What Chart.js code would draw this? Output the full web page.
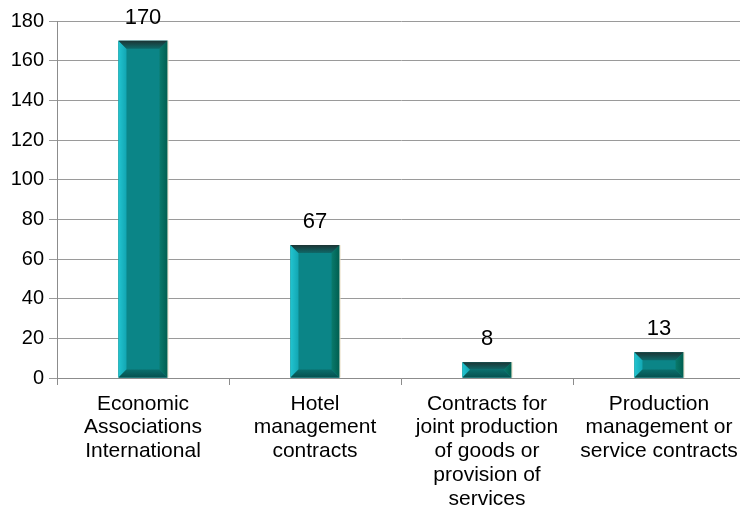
<!DOCTYPE html>
<html><head><meta charset="utf-8">
<script src="https://cdn.jsdelivr.net/npm/chart.js@4/dist/chart.umd.min.js"></script>
<style>html,body{margin:0;padding:0;background:#fff;overflow:hidden}#wrap{width:750px;height:510px}</style>
</head><body><div id="wrap"><canvas id="c" width="750" height="510"></canvas></div>
<script>
const categories = [
  ["Economic","Associations","International"],
  ["Hotel","management","contracts"],
  ["Contracts for","joint production","of goods or","provision of","services"],
  ["Production","management or","service contracts"]
];
const values = [170, 67, 8, 13];
const yTicks = [0,20,40,60,80,100,120,140,160,180];

const bevelPlugin = {
  id: 'bevel',
  afterDatasetsDraw(chart) {
    const ctx = chart.ctx;
    const meta = chart.getDatasetMeta(0);
    meta.data.forEach((bar, i) => {
      const p = bar.getProps(['x','y','base','width'], true);
      const l = p.x - p.width/2, r = p.x + p.width/2, t = p.y, b = p.base;
      const h = b - t;
      const d = Math.min(8, h/2, p.width/2);
      ctx.save();
      ctx.fillStyle = '#0b8587';
      ctx.fillRect(l, t, r-l, h);
      let g = ctx.createLinearGradient(l,0,l+d,0);
      g.addColorStop(0,'#22c4d0'); g.addColorStop(1,'#12a6b2');
      ctx.fillStyle = g;
      ctx.beginPath(); ctx.moveTo(l,t); ctx.lineTo(l+d,t+d); ctx.lineTo(l+d,b-d); ctx.lineTo(l,b); ctx.closePath(); ctx.fill();
      g = ctx.createLinearGradient(r-d,0,r,0);
      g.addColorStop(0,'#0a7a6c'); g.addColorStop(1,'#005e50');
      ctx.fillStyle = g;
      ctx.beginPath(); ctx.moveTo(r,t); ctx.lineTo(r-d,t+d); ctx.lineTo(r-d,b-d); ctx.lineTo(r,b); ctx.closePath(); ctx.fill();
      g = ctx.createLinearGradient(0,t,0,t+d);
      g.addColorStop(0,'#1c3434'); g.addColorStop(1,'#0e6a6a');
      ctx.fillStyle = g;
      ctx.beginPath(); ctx.moveTo(l,t); ctx.lineTo(r,t); ctx.lineTo(r-d,t+d); ctx.lineTo(l+d,t+d); ctx.closePath(); ctx.fill();
      g = ctx.createLinearGradient(0,b-d,0,b);
      g.addColorStop(0,'#0a6e6c'); g.addColorStop(1,'#05514f');
      ctx.fillStyle = g;
      ctx.beginPath(); ctx.moveTo(l,b); ctx.lineTo(r,b); ctx.lineTo(r-d,b-d); ctx.lineTo(l+d,b-d); ctx.closePath(); ctx.fill();
      ctx.strokeStyle = '#e8dcc0'; ctx.lineWidth = 1;
      ctx.beginPath(); ctx.moveTo(r+0.5,t); ctx.lineTo(r+0.5,b); ctx.stroke();
      ctx.fillStyle = '#000';
      ctx.font = '22px "Liberation Sans", Arial, sans-serif';
      ctx.textAlign = 'center'; ctx.textBaseline = 'middle';
      ctx.fillText(String(values[i]), p.x, t - 23);
      ctx.restore();
    });
  }
};

new Chart(document.getElementById('c'), {
  type: 'bar',
  data: { labels: categories, datasets: [{ data: values, backgroundColor: '#0b8587', barPercentage: 0.285, categoryPercentage: 1.0 }] },
  options: {
    responsive: false, animation: false,
    layout: { padding: { top: 21, right: 5, left: 0, bottom: 0 } },
    plugins: { legend: { display: false }, tooltip: { enabled: false } },
    scales: {
      x: {
        grid: { drawOnChartArea: false, color: '#8c8c8c', tickLength: 7, offset: true },
        border: { color: '#8c8c8c' },
        ticks: { color: '#000', font: { family: '"Liberation Sans", Arial, sans-serif', size: 21, lineHeight: 1.13 }, maxRotation: 0, autoSkip: false, padding: 7 },
        afterFit(s) { s.height = 132; }
      },
      y: {
        min: 0, max: 180,
        afterBuildTicks(s) { s.ticks = yTicks.map(v => ({ value: v })); },
        grid: { color: '#9a9a9a', tickLength: 8 },
        border: { color: '#8c8c8c' },
        ticks: { color: '#000', font: { family: '"Liberation Sans", Arial, sans-serif', size: 20 }, padding: 5 },
        afterFit(s) { s.width = 57; }
      }
    }
  },
  plugins: [bevelPlugin]
});
</script></body></html>
